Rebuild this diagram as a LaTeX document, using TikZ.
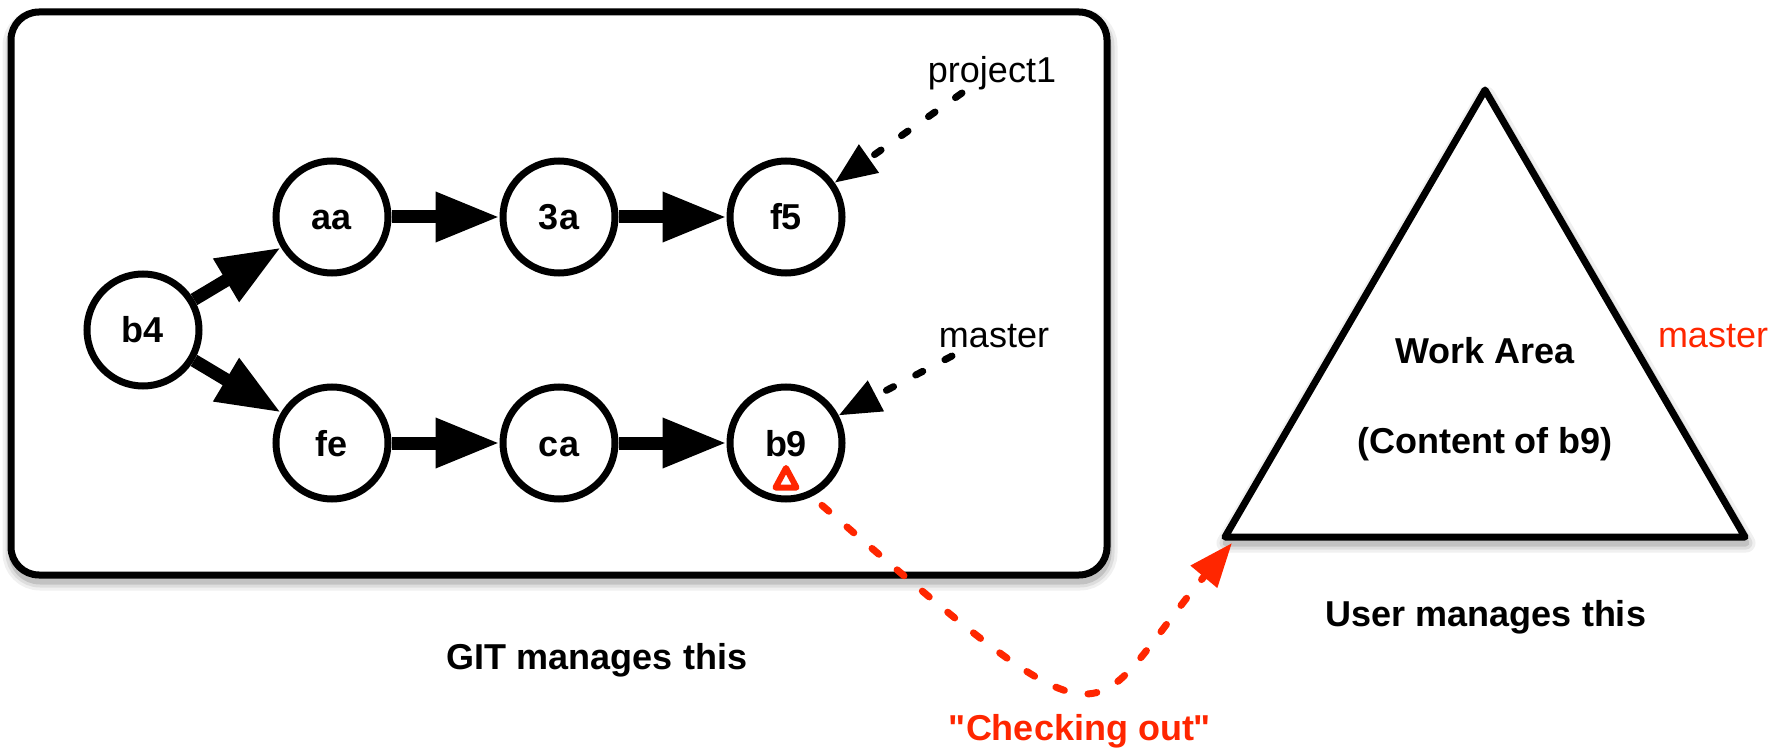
\documentclass[tikz,border=0pt]{standalone}
\usepackage{fontspec}
\setmainfont{Liberation Sans}[Ligatures=TeXOff]
\usetikzlibrary{arrows.meta,calc}
\definecolor{ored}{RGB}{255,38,0}
\begin{document}
\begin{tikzpicture}[x=1pt,y=-1pt,
  commit/.style={circle,draw,line width=7pt,minimum size=112pt,inner sep=0pt,
    font=\fontsize{36}{43}\selectfont\bfseries,text height=26pt,text depth=0pt},
  parent/.style={line width=13pt,-{Triangle[length=64pt,width=47pt]}},
  ref/.style={line width=7pt,line cap=round,dash pattern=on 8pt off 25pt,
    -{Triangle[length=42pt,width=33pt]}},
  checkout/.style={ored,line width=7pt,line cap=round,dash pattern=on 9pt off 24pt,
    -{Triangle[length=44pt,width=33pt]}},
  lbl/.style={font=\fontsize{36}{43}\selectfont,inner sep=0pt,anchor=base},
  blbl/.style={font=\fontsize{36}{43}\selectfont\bfseries,inner sep=0pt,anchor=base},
  shadowline/.style={black,line width={(7+2*#1)*1pt}},
  frame/.style={line width=7pt,fill=white}]
\useasboundingbox (0,0) rectangle (1789,751);
% soft shadows
\foreach \e/\o in {6/0.06,3/0.08,0/0.12}{
  \draw[shadowline=\e,opacity=\o,rounded corners=28pt] (12,18) rectangle (1108,581);
  \draw[shadowline=\e,opacity=\o,line join=round] (1226,543) -- (1486,96) -- (1746,543) -- cycle;
}
% frames
\draw[frame,rounded corners=28pt] (11,12) rectangle (1107,575);
\draw[frame,line join=round] (1225,537) -- (1485,90) -- (1745,537) -- cycle;
% commits
\node[commit] (b4) at (143,330) {b4};
\node[commit] (aa) at (332,217) {aa};
\node[commit] (3a) at (559,217) {3a};
\node[commit] (f5) at (786,217) {f5};
\node[commit] (fe) at (332,443) {fe};
\node[commit] (ca) at (559,443) {ca};
\node[commit] (b9) at (786,443) {b9};
\draw[parent] (b4) -- (aa);
\draw[parent] (b4) -- (fe);
\draw[parent] (aa) -- (3a);
\draw[parent] (3a) -- (f5);
\draw[parent] (fe) -- (ca);
\draw[parent] (ca) -- (b9);
% branch refs
\node[lbl] (p1) at (992,83) {project1};
\node[lbl] (ms) at (994,348) {master};
\coordinate (p1s) at (962,93);
\coordinate (mss) at (952,356);
\draw[ref] (p1s) -- (f5);
\draw[ref] (mss) -- (b9);
% HEAD marker
\draw[ored,line width=6pt,line join=round] ($(b9)+(0,25)$) -- ++(10.5,19.5) -- ++(-21,0) -- cycle;
% checkout curve
\coordinate (cs) at ($(b9)+(-60:72pt)$);
\coordinate (ce) at (1232,543);
\draw[checkout] (cs) .. controls (1125,767) and (1082,723) .. (ce);
% texts
\node[blbl] (git) at (597,669) {GIT manages this};
\node[blbl] (user) at (1486,626) {User manages this};
\node[blbl,text=ored] (co) at (1080,740) {"Checking out"};
\node[blbl] (wa) at (1485,363) {Work Area};
\node[blbl] (cb) at (1485,453) {(Content of b9)};
\node[lbl,text=ored] (rm) at (1713,348) {master};
\end{tikzpicture}
\end{document}
